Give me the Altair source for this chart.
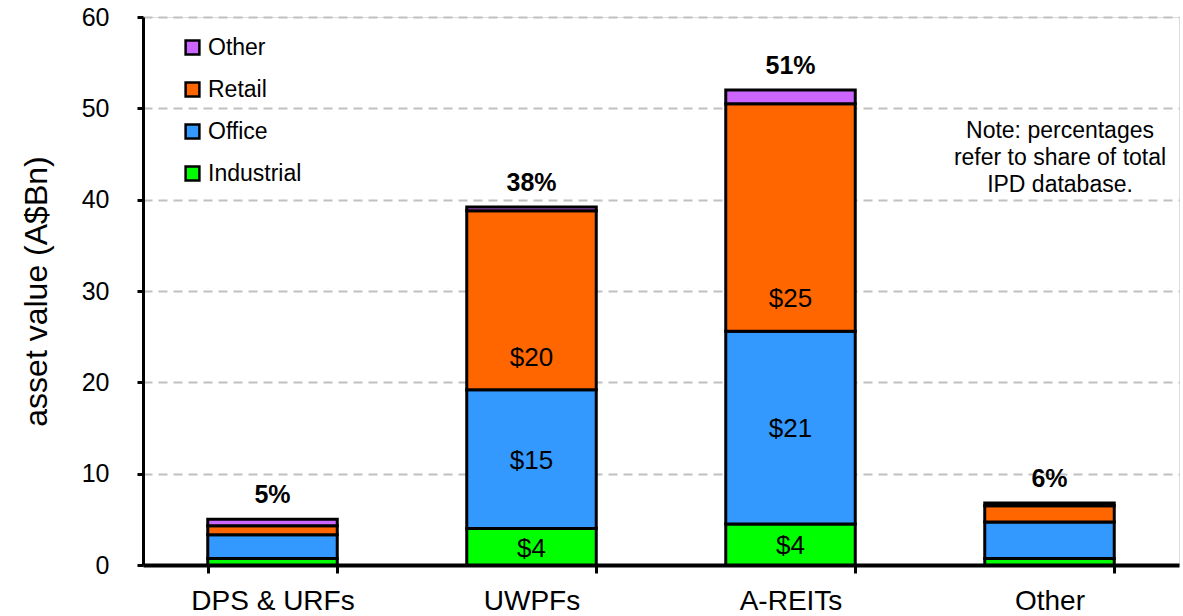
import altair as alt
import pandas as pd

categories = ["DPS & URFs", "UWPFs", "A-REITs", "Other"]
industrial = [0.7, 4.0, 4.5, 0.7]
office = [2.6, 15.2, 21.1, 4.0]
retail = [1.0, 19.6, 24.9, 1.8]
other = [0.7, 0.4, 1.5, 0.3]
pct_labels = ["5%", "38%", "51%", "6%"]
industrial_labels = ["", "$4", "$4", ""]
office_labels = ["", "$15", "$21", ""]
retail_labels = ["", "$20", "$25", ""]
note_text = "Note: percentages\nrefer to share of total\nIPD database."

series_names = ["Industrial", "Office", "Retail", "Other"]
series_vals = [industrial, office, retail, other]
series_labels = [industrial_labels, office_labels, retail_labels, None]

FONT = "Liberation Sans"

rows = []
lab_rows = []
for ci, cat in enumerate(categories):
    base = 0.0
    for si, name in enumerate(series_names):
        v = series_vals[si][ci]
        rows.append({"cat": cat, "series": name, "order": si, "start": base, "end": base + v})
        labs = series_labels[si]
        if labs is not None and labs[ci]:
            if name == "Retail":
                ypos = base + 3.5
            else:
                ypos = base + v / 2 - 0.2
            lab_rows.append({"cat": cat, "y": ypos, "label": labs[ci]})
        base += v
df = pd.DataFrame(rows)
lab_df = pd.DataFrame(lab_rows)
tot_df = pd.DataFrame({
    "cat": categories,
    "total": [sum(s[i] for s in series_vals) for i in range(len(categories))],
    "pct": pct_labels,
})

xscale = alt.Scale(domain=categories, paddingInner=0.5, paddingOuter=0.25)
yscale = alt.Scale(domain=[0, 60], nice=False)

xenc = alt.X(
    "cat:N", scale=xscale, sort=categories, title=None,
    axis=alt.Axis(
        labelAngle=0, labelFont=FONT, labelFontSize=28, labelColor="black",
        labelPadding=14, domainColor="black", domainWidth=4, tickColor="black",
        tickWidth=3, tickSize=8, tickBand="extent", grid=False,
    ),
)

bars = alt.Chart(df).mark_bar(stroke="black", strokeWidth=3).encode(
    x=xenc,
    y=alt.Y(
        "start:Q", scale=yscale, title="asset value (A$Bn)",
        axis=alt.Axis(
            values=[0, 10, 20, 30, 40, 50, 60], labelFont=FONT, labelFontSize=25,
            labelColor="black", labelPadding=28, domainColor="black", domainWidth=3,
            tickColor="black", tickWidth=3, tickSize=6, grid=True,
            gridColor="#c0c0c0", gridWidth=2, gridDash=[9, 6],
            titleFont=FONT, titleFontSize=32, titleFontWeight="normal",
            titleColor="black", titlePadding=28,
        ),
    ),
    y2="end:Q",
    color=alt.Color(
        "series:N",
        scale=alt.Scale(domain=["Other", "Retail", "Office", "Industrial"],
                        range=["#cc66ff", "#ff6600", "#3399ff", "#00ff00"]),
        legend=alt.Legend(
            title=None, orient="none", legendX=38, legendY=19,
            symbolType="square", symbolSize=190, symbolStrokeColor="black",
            symbolStrokeWidth=2.5, symbolOpacity=1, labelFont=FONT, labelFontSize=23,
            labelColor="black", rowPadding=17, labelOffset=4,
        ),
    ),
    order=alt.Order("order:Q"),
)

vlabels = alt.Chart(lab_df).mark_text(font=FONT, fontSize=26, color="black", baseline="middle").encode(
    x=alt.X("cat:N", scale=xscale, sort=categories),
    y=alt.Y("y:Q", scale=yscale),
    text="label:N",
)

pcts = alt.Chart(tot_df).mark_text(font=FONT, fontSize=25, fontWeight="bold", color="black",
                                   baseline="alphabetic", dy=-16).encode(
    x=alt.X("cat:N", scale=xscale, sort=categories),
    y=alt.Y("total:Q", scale=yscale),
    text="pct:N",
)

note = alt.Chart(pd.DataFrame({"t": [note_text]})).mark_text(
    font=FONT, fontSize=23, color="black", align="center", baseline="middle",
    lineBreak="\n", lineHeight=27,
).encode(
    x=alt.value(917),
    y=alt.value(114),
    text="t:N",
)

chart = alt.layer(bars, vlabels, pcts, note).properties(
    width=1036, height=548,
    autosize=alt.AutoSizeParams(type="none"),
    padding={"left": 143, "top": 17, "right": 4, "bottom": 51},
).configure_view(stroke=None).configure(background="white")

chart.save("out.html", embed_options={"renderer": "svg", "actions": False})
